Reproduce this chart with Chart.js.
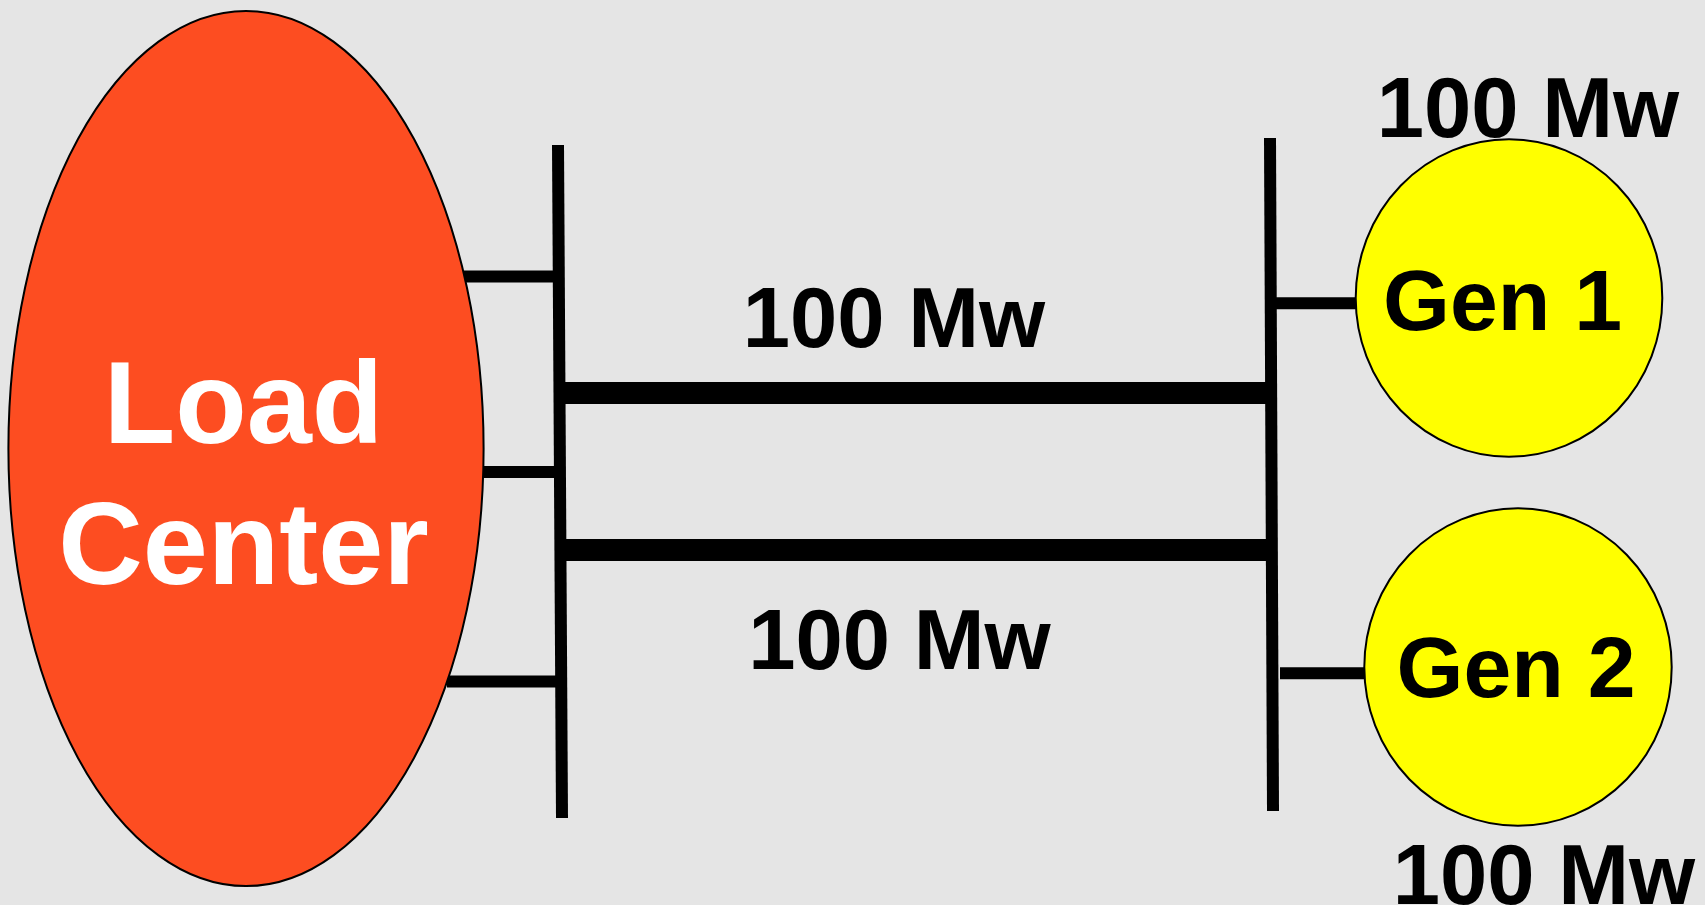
<!DOCTYPE html>
<html>
<head>
<meta charset="utf-8">
<script src="https://cdn.jsdelivr.net/npm/chart.js@4/dist/chart.umd.min.js"></script>
<style>
  html, body { margin: 0; padding: 0; background: #e5e5e5; }
  #wrap { width: 1705px; height: 905px; position: relative; }
</style>
</head>
<body>
<div id="wrap"><canvas id="c"></canvas></div>
<script>
// ---- Diagram data (in axis units: x 0..1705, y 0..905 top-down) ----
const leftBus   = [{x: 558, y: 145}, {x: 562, y: 818}];
const rightBus  = [{x: 1270, y: 138}, {x: 1273, y: 811}];
const lineTop   = [{x: 560, y: 393}, {x: 1268, y: 393}];
const lineBot   = [{x: 562, y: 550}, {x: 1270, y: 550}];
const loadStubsY    = [276.5, 472, 681.5];
const loadStubsX0   = [456, 484, 447];
const loadStubsX1   = [555, 556, 558];
const genStubsY     = [303.3, 673.3];
const genStubsX0    = [1272, 1280];
const genStubsX1    = [1358, 1366];

const nodeNames = [['Load', 'Center'], ['Gen 1'], ['Gen 2']];
const nodeCx = [246, 1509, 1518];
const nodeCy = [448.5, 298, 667];
const nodeRx = [237.6, 153.3, 153.7];
const nodeRy = [437.6, 158.7, 158.7];

const ratingLabels = ['100 Mw', '100 Mw', '100 Mw', '100 Mw'];
const ratingX = [1528, 894, 899.5, 1544];
const ratingY = [137.3, 347, 668.7, 903.7];

// ---- build datasets ----
function seg(data, w) {
  return { type: 'line', data: data, borderColor: '#000', borderWidth: w,
           pointRadius: 0, showLine: true, fill: false, borderCapStyle: 'butt',
           tension: 0, clip: false };
}
const datasets = [
  seg(leftBus, 12), seg(rightBus, 12), seg(lineTop, 22), seg(lineBot, 22)
];
loadStubsY.forEach((y, i) => datasets.push(seg([{x: loadStubsX0[i], y: y}, {x: loadStubsX1[i], y: y}], 12)));
genStubsY.forEach((y, i) => datasets.push(seg([{x: genStubsX0[i], y: y}, {x: genStubsX1[i], y: y}], 12)));

const nodeFill = ['#fd4d21', '#ffff00', '#ffff00'];
const nodeText = ['#ffffff', '#000000', '#000000'];
const nodeFont = [117, 86, 86];

const diagramPlugin = {
  id: 'diagram',
  afterDatasetsDraw(chart) {
    const ctx = chart.ctx, xs = chart.scales.x, ys = chart.scales.y;
    ctx.save();
    nodeCx.forEach((cx, i) => {
      const px = xs.getPixelForValue(cx), py = ys.getPixelForValue(nodeCy[i]);
      const rx = Math.abs(xs.getPixelForValue(cx + nodeRx[i]) - px);
      const ry = Math.abs(ys.getPixelForValue(nodeCy[i] + nodeRy[i]) - py);
      ctx.beginPath();
      ctx.ellipse(px, py, rx, ry, 0, 0, Math.PI * 2);
      ctx.fillStyle = nodeFill[i];
      ctx.fill();
      ctx.lineWidth = 2;
      ctx.strokeStyle = '#000';
      ctx.stroke();
    });
    ctx.textAlign = 'center';
    ctx.textBaseline = 'alphabetic';
    const nodeBase = [[442.6, 584], [330], [696.7]];
    const nodeTx = [243.6, 1502.5, 1516];
    nodeNames.forEach((lines, i) => {
      ctx.font = 'bold ' + nodeFont[i] + 'px "Liberation Sans", Arial, sans-serif';
      ctx.fillStyle = nodeText[i];
      lines.forEach((t, j) => {
        ctx.fillText(t, xs.getPixelForValue(nodeTx[i]), ys.getPixelForValue(nodeBase[i][j]));
      });
    });
    ctx.font = 'bold 85px "Liberation Sans", Arial, sans-serif';
    ctx.fillStyle = '#000';
    ratingLabels.forEach((t, i) => {
      ctx.fillText(t, xs.getPixelForValue(ratingX[i]), ys.getPixelForValue(ratingY[i]));
    });
    ctx.restore();
  }
};

new Chart(document.getElementById('c'), {
  type: 'scatter',
  data: { datasets: datasets },
  options: {
    responsive: true,
    maintainAspectRatio: false,
    animation: false,
    layout: { padding: 0 },
    plugins: { legend: { display: false }, tooltip: { enabled: false } },
    events: [],
    scales: {
      x: { type: 'linear', min: 0, max: 1705, display: false },
      y: { type: 'linear', min: 0, max: 905, reverse: true, display: false }
    }
  },
  plugins: [diagramPlugin]
});
</script>
</body>
</html>
